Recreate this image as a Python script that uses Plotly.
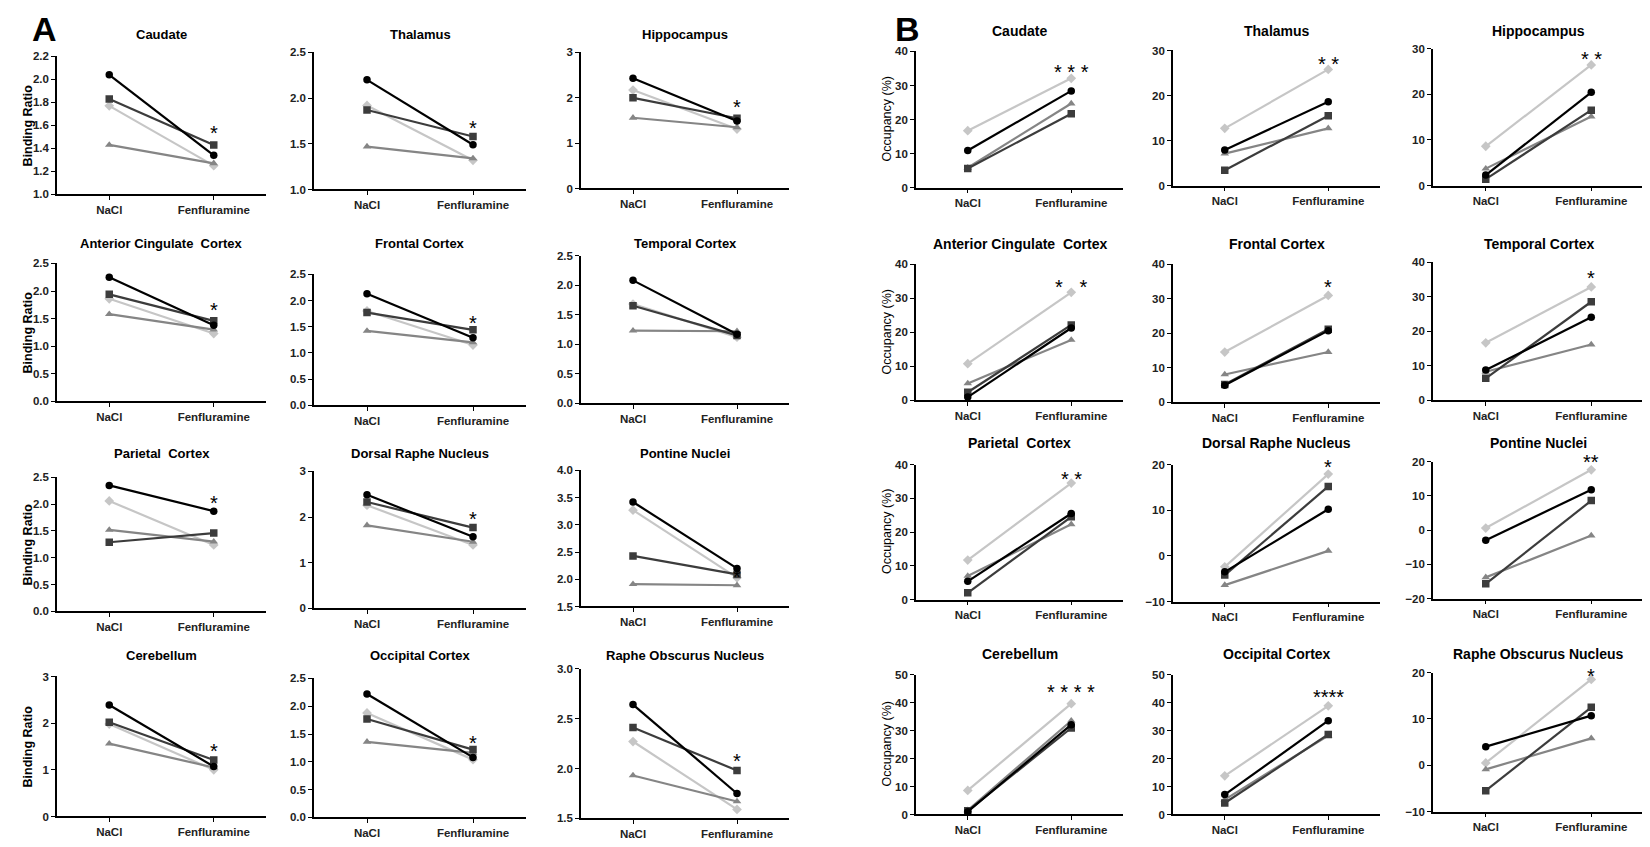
import plotly.graph_objects as go

groups = ["NaCl", "Fenfluramine"]
regions = ["Caudate", "Thalamus", "Hippocampus",
           "Anterior Cingulate  Cortex", "Frontal Cortex", "Temporal Cortex",
           "Parietal  Cortex", "Dorsal Raphe Nucleus", "Pontine Nuclei",
           "Cerebellum", "Occipital Cortex", "Raphe Obscurus Nucleus"]

# panel A - binding ratio, (NaCl, Fenfluramine) for each region
ratio_circle = [(2.04, 1.34), (2.20, 1.49), (2.43, 1.49), (2.25, 1.38), (2.13, 1.29), (2.08, 1.17),
                (2.35, 1.87), (2.49, 1.57), (3.42, 2.20), (2.39, 1.07), (2.22, 1.08), (2.64, 1.75)]
ratio_square = [(1.83, 1.43), (1.87, 1.58), (2.00, 1.55), (1.94, 1.46), (1.77, 1.44), (1.65, 1.15),
                (1.29, 1.46), (2.33, 1.77), (2.43, 2.09), (2.02, 1.21), (1.77, 1.22), (2.41, 1.98)]
ratio_triangle = [(1.43, 1.27), (1.47, 1.34), (1.56, 1.35), (1.58, 1.30), (1.42, 1.20), (1.23, 1.22),
                  (1.52, 1.30), (1.82, 1.46), (1.91, 1.89), (1.56, 1.05), (1.36, 1.16), (1.93, 1.67)]
ratio_light = [(1.77, 1.25), (1.92, 1.32), (2.17, 1.31), (1.86, 1.23), (1.80, 1.15), (1.68, 1.12),
               (2.06, 1.24), (2.26, 1.39), (3.27, 2.03), (1.98, 1.00), (1.88, 1.04), (2.27, 1.59)]
ratio_axis_min = [1.0, 1.0, 0, 0, 0, 0, 0, 0, 1.5, 0, 0, 1.5]
ratio_axis_max = [2.2, 2.5, 3, 2.5, 2.5, 2.5, 2.5, 3, 4.0, 3, 2.5, 3.0]
ratio_axis_step = [0.2, 0.5, 1, 0.5, 0.5, 0.5, 0.5, 1, 0.5, 1, 0.5, 0.5]
ratio_stars = ["*", "*", "*", "*", "*", "", "*", "*", "*", "*", "*", "*"]
ratio_star_y = [1.57, 1.72, 1.88, 1.72, 1.65, 0, 2.10, 2.04, 2.12, 1.49, 1.42, 2.12]

# panel B - occupancy (%), (NaCl, Fenfluramine) for each region
occ_circle = [(10.9, 28.4), (7.9, 18.6), (2.3, 20.4), (1.0, 21.3), (5.0, 20.8), (8.8, 24.1),
              (5.4, 25.5), (-3.5, 10.2), (-3.0, 11.8), (1.0, 32.1), (7.1, 33.5), (4.0, 10.7)]
occ_square = [(5.6, 21.7), (3.4, 15.5), (1.4, 16.5), (2.4, 22.2), (5.2, 21.2), (6.4, 28.6),
              (2.0, 24.5), (-4.2, 15.2), (-15.7, 8.6), (1.3, 30.9), (4.1, 28.6), (-5.5, 12.5)]
occ_triangle = [(5.8, 24.7), (7.1, 12.7), (3.7, 15.1), (5.0, 17.8), (8.1, 14.6), (8.3, 16.2),
                (7.0, 22.3), (-6.4, 1.1), (-13.8, -1.6), (1.5, 33.5), (5.3, 28.2), (-0.9, 5.8)]
occ_light = [(16.7, 32.1), (12.7, 25.8), (8.6, 26.4), (10.8, 31.8), (14.6, 31.0), (16.7, 32.9),
             (11.7, 34.5), (-2.4, 17.9), (0.6, 17.6), (8.6, 39.6), (13.8, 38.8), (0.5, 18.5)]
occ_axis_min = [0, 0, 0, 0, 0, 0, 0, -10, -20, 0, 0, -10]
occ_axis_max = [40, 30, 30, 40, 40, 40, 40, 20, 20, 50, 50, 20]
occ_axis_step = [10] * 12
occ_stars = ["* * *", "* *", "* *", "*\u00a0\u00a0\u00a0*", "*", "*", "* *", "*", "**",
             "* * * *", "****", "*"]
occ_star_y = [35, 27.8, 28.6, 34.5, 34.6, 36.7, 37, 20.4, 21, 45.3, 43.5, 20.2]

# figure geometry in pixels
W, H = 1650, 847
cols_a = [(49, 258), (306, 518), (573, 781)]
cols_b = [(908, 1115), (1165, 1372), (1425, 1636)]
rows_a = [(43, 183), (39, 178), (39, 177),
          (253, 393), (264, 397), (245, 395),
          (470, 606), (464, 603), (463, 601),
          (672, 814), (674, 815), (664, 816)]
rows_b = [(38, 176), (37, 174), (35, 174),
          (254, 392), (254, 394), (252, 392),
          (457, 594), (457, 596), (454, 593),
          (670, 812), (670, 812), (668, 809)]
title_y_a = [21, 233, 446, 651]
title_y_b = [17, 233, 435, 649]

series_style = [
    ("light", "#c6c6c6", "diamond"),
    ("triangle", "#858585", "triangle-up"),
    ("square", "#3c3c3c", "square"),
    ("circle", "#000000", "circle"),
]

narrow = "Liberation Sans Narrow, Arial Narrow, Liberation Sans, Arial"
regular = "Liberation Sans, Arial"

fig = go.Figure()
annotations = []
layout_axes = {}

panels = [
    dict(data={"circle": ratio_circle, "square": ratio_square,
               "triangle": ratio_triangle, "light": ratio_light},
         ymin=ratio_axis_min, ymax=ratio_axis_max, step=ratio_axis_step,
         stars=ratio_stars, star_y=ratio_star_y, cols=cols_a, rows=rows_a,
         title_y=title_y_a, ylabel="Binding Ratio", ylabel_x=20, ylabel_bold=True,
         title_font=dict(family=regular, size=13, color="black", weight="bold")),
    dict(data={"circle": occ_circle, "square": occ_square,
               "triangle": occ_triangle, "light": occ_light},
         ymin=occ_axis_min, ymax=occ_axis_max, step=occ_axis_step,
         stars=occ_stars, star_y=occ_star_y, cols=cols_b, rows=rows_b,
         title_y=title_y_b, ylabel="Occupancy (%)", ylabel_x=879, ylabel_bold=False,
         title_font=dict(family=narrow, size=14, color="black", weight="bold")),
]

n = 0
for panel in panels:
    for i, region in enumerate(regions):
        n += 1
        xref = "x" if n == 1 else f"x{n}"
        yref = "y" if n == 1 else f"y{n}"
        col = i % 3
        row = i // 3
        x0, x1 = panel["cols"][col]
        top, bottom = panel["rows"][i]
        ymin, ymax = panel["ymin"][i], panel["ymax"][i]

        for key, color, symbol in series_style:
            vals = panel["data"][key][i]
            fig.add_trace(go.Scatter(
                x=list(range(len(groups))), y=list(vals),
                xaxis=xref, yaxis=yref,
                mode="lines+markers",
                line=dict(color=color, width=2.2),
                marker=dict(color=color, symbol=symbol, size=7.5),
                showlegend=False, hoverinfo="skip",
            ))

        step = panel["step"][i]
        tick_font = dict(family=narrow, size=11.5, color="#222", weight="bold")
        layout_axes["xaxis" if n == 1 else f"xaxis{n}"] = dict(
            domain=[x0 / W, x1 / W], anchor=yref,
            range=[-0.5, 1.5], tickvals=list(range(len(groups))), ticktext=groups,
            showline=True, linecolor="black", linewidth=1.6,
            ticks="outside", ticklen=4, tickwidth=1.2, tickcolor="black",
            showgrid=False, zeroline=False, tickfont=tick_font,
        )
        layout_axes["yaxis" if n == 1 else f"yaxis{n}"] = dict(
            domain=[1 - bottom / H, 1 - top / H], anchor=xref,
            range=[ymin, ymax], tick0=ymin, dtick=step,
            tickformat=".1f" if step < 1 else "d",
            showline=True, linecolor="black", linewidth=1.6,
            ticks="outside", ticklen=4, tickwidth=1.2, tickcolor="black",
            showgrid=False, zeroline=False, tickfont=tick_font,
        )

        annotations.append(dict(
            text=region, xref=f"{xref} domain", x=0.5,
            yref="paper", y=1 - panel["title_y"][row] / H,
            xanchor="center", yanchor="middle", showarrow=False,
            font=panel["title_font"],
        ))
        if panel["stars"][i]:
            # placed in domain units so stars above the axis top stay visible
            frac = (panel["star_y"][i] - ymin) / (ymax - ymin)
            annotations.append(dict(
                text=panel["stars"][i], xref=f"{xref} domain", x=0.75,
                yref=f"{yref} domain", y=frac,
                xanchor="center", yanchor="middle", yshift=-4, showarrow=False,
                font=dict(family=regular, size=20, color="black"),
            ))
        if col == 0:
            annotations.append(dict(
                text=panel["ylabel"], textangle=-90,
                xref="paper", x=panel["ylabel_x"] / W,
                yref="paper", y=1 - (top + bottom) / 2 / H,
                xanchor="center", yanchor="middle", showarrow=False,
                font=dict(family=regular, size=12.5, color="black",
                          weight="bold" if panel["ylabel_bold"] else "normal"),
            ))

annotations.append(dict(text="A", xref="paper", yref="paper", x=36 / W, y=1 - 15 / H,
                        xanchor="center", yanchor="middle", showarrow=False,
                        font=dict(family=regular, size=34, color="black", weight="bold")))
annotations.append(dict(text="B", xref="paper", yref="paper", x=900 / W, y=1 - 15 / H,
                        xanchor="center", yanchor="middle", showarrow=False,
                        font=dict(family=regular, size=34, color="black", weight="bold")))

fig.update_layout(
    width=W, height=H,
    margin=dict(l=0, r=0, t=0, b=0),
    paper_bgcolor="white", plot_bgcolor="white",
    annotations=annotations,
    **layout_axes,
)

fig.write_html("out.html")
